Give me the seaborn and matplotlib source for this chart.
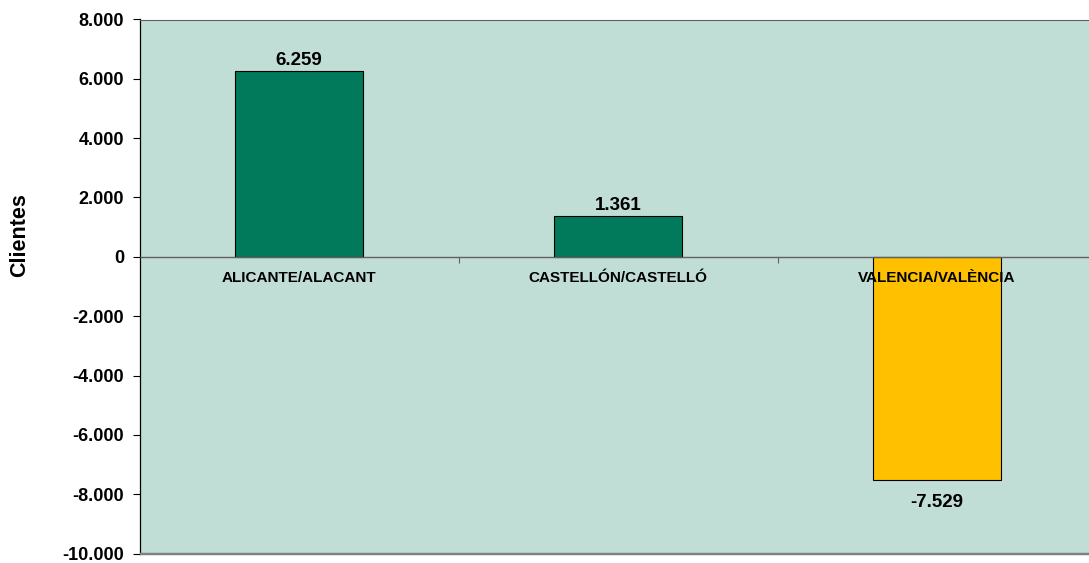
import matplotlib
matplotlib.use("Agg")
import matplotlib.pyplot as plt
import seaborn as sns
import pandas as pd
from matplotlib.ticker import FuncFormatter, FixedLocator
from matplotlib.patches import Rectangle

categories = ["ALICANTE/ALACANT", "CASTELLÓN/CASTELLÓ", "VALENCIA/VALÈNCIA"]
values = [6259, 1361, -7529]
bar_colors = ["#007A5A", "#007A5A", "#FFC000"]
y_ticks = [-10000, -8000, -6000, -4000, -2000, 0, 2000, 4000, 6000, 8000]
y_label = "Clientes"

sns.set_theme(style="white")
plt.rcParams["font.family"] = ["Liberation Sans", "DejaVu Sans"]
plt.rcParams["text.color"] = "black"
plt.rcParams["axes.labelcolor"] = "black"
plt.rcParams["xtick.color"] = "black"
plt.rcParams["ytick.color"] = "black"

def fmt(v):
    return f"{int(round(v)):,}".replace(",", ".")

df = pd.DataFrame({"cat": categories, "val": values})

fig = plt.figure(figsize=(10.89, 5.63), dpi=100)
ax = fig.add_axes([139.5 / 1089, 9.5 / 563, 957 / 1089, (553.5 - 19.5) / 563])
ax.set_facecolor("#C1DED6")

sns.barplot(data=df, x="cat", y="val", hue="cat", palette=bar_colors, legend=False,
            width=0.4, edgecolor="black", linewidth=0.8, saturation=1, ax=ax, zorder=2)

ax.set_ylim(-10000, 8000)
ax.set_xlim(-0.5, len(categories) - 0.5)
ax.yaxis.set_major_locator(FixedLocator(y_ticks))
ax.yaxis.set_major_formatter(FuncFormatter(lambda v, p: fmt(v)))
ax.tick_params(axis="y", which="major", left=True, length=5, width=0.8, color="black",
               labelsize=13, pad=6, labelcolor="black")
for lbl in ax.get_yticklabels():
    lbl.set_fontweight("bold")

# category axis at zero
ax.spines["bottom"].set_position(("data", 0))
ax.spines["bottom"].set_color("#606060")
ax.spines["bottom"].set_linewidth(1.0)
ax.spines["left"].set_color("black")
ax.spines["left"].set_linewidth(0.9)
ax.spines["top"].set_color("#606060")
ax.spines["top"].set_linewidth(0.8)
ax.spines["right"].set_visible(False)
ax.set_xticks(range(len(categories)))
ax.set_xticklabels(categories, fontsize=11, fontweight="bold")
ax.set_xticks([i + 0.5 for i in range(len(categories) - 1)], minor=True)
ax.tick_params(axis="x", which="major", bottom=False, length=0, pad=10, labelcolor="black")
ax.tick_params(axis="x", which="minor", bottom=True, length=4, width=0.8, color="#606060")
ax.set_axisbelow(False)
for lbl in ax.get_xticklabels():
    lbl.set_zorder(5)

# bottom frame line
ax.add_patch(Rectangle((0, 0), 1, 0.0, transform=ax.transAxes, fill=False,
                       edgecolor="#808080", linewidth=1.6, clip_on=False, zorder=3))

ax.set_xlabel("")
ax.set_ylabel(y_label, fontsize=15.5, fontweight="bold")
ax.yaxis.set_label_coords(-0.1145, 0.596)

for i, v in enumerate(values):
    if v >= 0:
        ax.annotate(fmt(v), (i, v), xytext=(0, 1.5), textcoords="offset points",
                    ha="center", va="bottom", fontsize=13.5, fontweight="bold", zorder=6)
    else:
        ax.annotate(fmt(v), (i, v), xytext=(0, -10), textcoords="offset points",
                    ha="center", va="top", fontsize=13.5, fontweight="bold", zorder=6)

fig.savefig("out.png", dpi=100)
